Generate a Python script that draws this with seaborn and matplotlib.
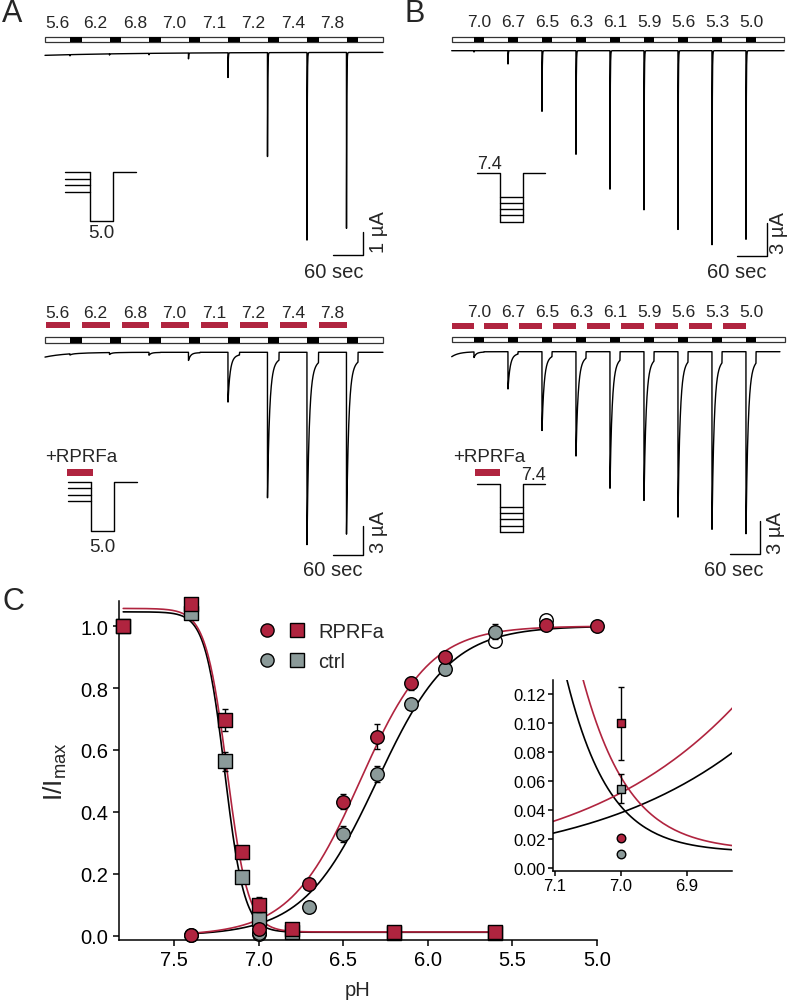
import numpy as np
import matplotlib
matplotlib.use("Agg")
import matplotlib.pyplot as plt
import seaborn as sns
from matplotlib.patches import Rectangle
from matplotlib.lines import Line2D
from matplotlib.legend_handler import HandlerTuple

sns.set_style("ticks")
plt.rcParams["font.family"] = ["Liberation Sans", "DejaVu Sans"]
plt.rcParams["mathtext.default"] = "regular"

RED = "#B0243F"
GRAY = "#8B9A99"

# ------------------ A / B : peak currents (uA) ------------------

a_labels = ["5.6", "6.2", "6.8", "7.0", "7.1", "7.2", "7.4", "7.8"]
a_ctrl_peaks = [0.05, 0.05, 0.06, 0.25, 1.06, 4.46, 8.05, 7.55]
a_rprfa_peaks = [0.12, 0.2, 0.3, 0.85, 5.2, 15.2, 20.1, 19.0]

b_labels = ["7.0", "6.7", "6.5", "6.3", "6.1", "5.9", "5.6", "5.3", "5.0"]
b_ctrl_peaks = [0.12, 1.22, 5.56, 9.5, 12.7, 14.6, 16.4, 17.8, 17.3]
b_rprfa_peaks = [0.5, 3.36, 7.1, 9.4, 12.3, 13.4, 14.9, 16.0, 16.4]

# timing (s): first test pulse, period, test duration
a_timing = (50.0, 79.0, 23.0)
b_timing = (44.6, 68.0, 20.0)

# kinetics: fast tau, slow fraction, slow tau, sustained fraction
ctrl_kin = (0.5, 0.0, 1.0, 0.0)
rprfa_kin = (4.0, 0.15, 12.0, 0.03)

# initial baseline offset (uA) and its settling time (s)
a_ctrl_drift = (0.13, 200.0)
a_rprfa_drift = (0.5, 45.0)
b_ctrl_drift = (0.0, 1.0)
b_rprfa_drift = (0.45, 15.0)

# ------------------ C : concentration-response ------------------

sq_ph = [7.8, 7.4, 7.2, 7.1, 7.0, 6.8, 6.2, 5.6]
sq_rprfa = [1.00, 1.072, 0.697, 0.269, 0.100, 0.020, 0.011, 0.011]
sq_rprfa_err = [0, 0, 0.035, 0.02, 0.025, 0, 0, 0]
sq_ctrl = [1.00, 1.042, 0.563, 0.188, 0.055, 0.012, 0.009, 0.009]
sq_ctrl_err = [0, 0, 0.03, 0.015, 0.01, 0, 0, 0]

ci_ph_rprfa = [7.4, 7.0, 6.7, 6.5, 6.3, 6.1, 5.9, 5.3, 5.0]
ci_rprfa = [0.003, 0.021, 0.167, 0.433, 0.643, 0.815, 0.900, 1.003, 0.999]
ci_rprfa_err = [0, 0, 0, 0.025, 0.04, 0.02, 0.02, 0.01, 0]
ci_ph_ctrl = [7.4, 7.0, 6.7, 6.5, 6.3, 6.1, 5.9, 5.6]
ci_ctrl = [0.003, 0.010, 0.092, 0.328, 0.522, 0.748, 0.861, 0.982]
ci_ctrl_err = [0, 0, 0, 0.025, 0.025, 0.015, 0, 0.025]
open_ph = [7.0, 5.6, 5.3]
open_val = [0.004, 0.953, 1.02]

# fit parameters: activation (pH50, nH), inactivation (top, bottom, pH50, nH)
act_ctrl = (6.30, 2.0)
act_rprfa = (6.40, 2.1)
inact_ctrl = (1.035, 0.011, 7.20, 7.5)
inact_rprfa = (1.045, 0.012, 7.187, 6.9)

# ------------------ figure ------------------

W, H = 793, 1004
fig = plt.figure(figsize=(W / 100, H / 100), dpi=100)


def px_axes(l, t, r, b):
    return fig.add_axes([l / W, 1 - b / H, (r - l) / W, (b - t) / H])


def make_trace(peaks, timing, kin, drift, t_end):
    t_first, period, t_test = timing
    tau_f, slow, tau_s, sus_frac = kin
    tt = np.arange(0, t_end, 0.1)
    cur = -drift[0] * np.exp(-tt / drift[1])
    for i, pk in enumerate(peaks):
        ts = t_first + i * period
        m = (tt >= ts) & (tt < ts + t_test)
        d = tt[m] - ts
        sus = sus_frac * pk
        cur[m] += -(pk - sus) * ((1 - slow) * np.exp(-d / tau_f) + slow * np.exp(-d / tau_s)) - sus
    return tt, cur


def trace_panel(box, x0, base, ppu, peaks, labels, timing, kin, drift, t_end, stim_y, stim_end,
                label_y, label_on_test, red_y, scale_ua, sb, ua_txt, sec_txt):
    l, t, r, b = box
    ax = px_axes(l, t, r, b)
    spp = 2.0
    X = lambda p: (p - x0) * spp
    Y = lambda p: (base - p) / ppu
    ax.set_xlim(X(l), X(r))
    ax.set_ylim(Y(b), Y(t))
    ax.axis("off")

    t_first, period, t_test = timing
    starts = [t_first + i * period for i in range(len(peaks))]

    # stimulus bar
    y0, y1 = Y(stim_y[1]), Y(stim_y[0])
    ax.add_patch(Rectangle((0, y0), X(stim_end), y1 - y0, facecolor="white",
                           edgecolor="#333333", lw=0.9))
    for s in starts:
        ax.add_patch(Rectangle((s, y0), t_test, y1 - y0, facecolor="black", edgecolor="none"))

    # pH labels and RPRFa bars
    for i, (s, lab) in enumerate(zip(starts, labels)):
        c0 = 0 if i == 0 else starts[i - 1] + t_test
        xc = s + t_test / 2 if label_on_test else (c0 + s) / 2
        ax.text(xc, Y(label_y), lab, ha="center", va="center", fontsize=12.5)
        if red_y is not None:
            ax.add_patch(Rectangle((c0 + 1.0, Y(red_y + 3)), s - c0 - 0.5, 6 / ppu,
                                   facecolor=RED, edgecolor="none"))

    tt, cur = make_trace(peaks, timing, kin, drift, t_end)
    sns.lineplot(x=tt, y=cur, ax=ax, color="black", lw=1.0, estimator=None, sort=False)

    # scale bars
    sx, sy = X(sb[0]), Y(sb[1])
    ax.plot([sx - 60, sx, sx], [sy, sy, sy + scale_ua], color="black", lw=1.0)
    ax.text(X(ua_txt[0]), Y(ua_txt[1]), f"{scale_ua} µA", rotation=90,
            ha="center", va="center", fontsize=14.5)
    ax.text(X(sec_txt[0]), Y(sec_txt[1]), "60 sec", ha="center", va="center", fontsize=14.5)
    return ax


trace_panel((40, 5, 395, 290), 45, 53.3, 23.3, a_ctrl_peaks, a_labels, a_timing, ctrl_kin, a_ctrl_drift, 676,
            (37.7, 43.3), 382.7, 23.3, False, None, 1, (362.7, 256.3), (379, 231.7), (334, 273))
trace_panel((40, 290, 395, 585), 45, 353.3, 9.57, a_rprfa_peaks, a_labels, a_timing, rprfa_kin, a_rprfa_drift, 676,
            (338.3, 344.0), 382.7, 313.3, False, 326.2, 3, (362.7, 556), (378, 532), (333, 570))
trace_panel((445, 5, 793, 290), 451.7, 51.7, 10.9, b_ctrl_peaks, b_labels, b_timing, ctrl_kin, b_ctrl_drift, 665,
            (38.3, 43.3), 784.3, 22.5, True, None, 3, (766.7, 256.7), (778, 233), (736.7, 273))
trace_panel((445, 290, 793, 585), 451.7, 352.7, 11.1, b_rprfa_peaks, b_labels, b_timing, rprfa_kin, b_rprfa_drift,
            656.6, (337.7, 343.3), 785.0, 312.5, True, 327.3, 3, (760, 555), (775.5, 533), (733.3, 570))

# ------------------ protocol sketches (pixel overlay) ------------------

ov = fig.add_axes([0, 0, 1, 1])
ov.set_xlim(0, W)
ov.set_ylim(H, 0)
ov.axis("off")


def sketch_down(x_l, x_a, x_b, x_r, y_top, y_bot, levels, label, lab_y):
    # conditioning levels then a step down to the test pH
    for yy in levels:
        ov.plot([x_l, x_a], [yy, yy], color="black", lw=1.0)
    ov.plot([x_a, x_a, x_b, x_b, x_r], [y_top, y_bot, y_bot, y_top, y_top], color="black", lw=1.0)
    ov.text((x_a + x_b) / 2, lab_y, label, ha="center", va="center", fontsize=13.5)


def sketch_up(x_l, x_a, x_b, x_r, y_top, rungs):
    ov.plot([x_l, x_a, x_a], [y_top, y_top, rungs[-1]], color="black", lw=1.0)
    ov.plot([x_b, x_b, x_r], [rungs[-1], y_top, y_top], color="black", lw=1.0)
    for yy in rungs:
        ov.plot([x_a, x_b], [yy, yy], color="black", lw=1.0)


sketch_down(65, 90, 113, 136, 173.3, 222, [173.3, 180, 186, 192.7], "5.0", 234)
sketch_down(68, 90.7, 113.7, 136.7, 483.3, 531.7, [483.3, 489.3, 495.7, 501.7], "5.0", 547.5)
ov.text(45, 457.5, "+RPRFa", ha="left", va="center", fontsize=13.5)
ov.add_patch(Rectangle((66.7, 469.5), 26, 7, facecolor=RED, edgecolor="none"))

sketch_up(477.3, 500, 523.3, 545, 174, [198.3, 204, 210, 216, 222.7])
ov.text(489, 164.5, "7.4", ha="center", va="center", fontsize=13)
sketch_up(477.3, 500, 523.3, 545, 485, [508.3, 514, 520, 526.7, 532.7])
ov.text(453.3, 457.5, "+RPRFa", ha="left", va="center", fontsize=13.5)
ov.add_patch(Rectangle((475, 470), 25, 7, facecolor=RED, edgecolor="none"))
ov.text(533, 475.3, "7.4", ha="center", va="center", fontsize=13)

# ------------------ C ------------------


def act(ph, p):
    return 1 / (1 + 10 ** (p[1] * (ph - p[0])))


def inact(ph, p):
    return p[1] + p[0] / (1 + 10 ** (p[3] * (p[2] - ph)))


ph_act = np.linspace(7.4, 5.0, 500)
ph_inact = np.linspace(7.8, 5.6, 500)


def draw_c(ax, ms, small=False):
    lw = 1.2
    sns.lineplot(x=ph_act, y=act(ph_act, act_ctrl), ax=ax, color="black", lw=lw, estimator=None, sort=False)
    sns.lineplot(x=ph_inact, y=inact(ph_inact, inact_ctrl), ax=ax, color="black", lw=lw, estimator=None, sort=False)
    sns.lineplot(x=ph_act, y=act(ph_act, act_rprfa), ax=ax, color=RED, lw=lw, estimator=None, sort=False)
    sns.lineplot(x=ph_inact, y=inact(ph_inact, inact_rprfa), ax=ax, color=RED, lw=lw, estimator=None, sort=False)

    groups = [
        (sq_ph, sq_ctrl, sq_ctrl_err, GRAY, "s"),
        (sq_ph, sq_rprfa, sq_rprfa_err, RED, "s"),
        (ci_ph_ctrl, ci_ctrl, ci_ctrl_err, GRAY, "o"),
        (ci_ph_rprfa, ci_rprfa, ci_rprfa_err, RED, "o"),
    ]
    z = 4
    if not small:
        sns.scatterplot(x=open_ph, y=open_val, ax=ax, marker="o", s=ms, color="white",
                        edgecolor="black", linewidth=1.0, zorder=3, clip_on=False)
    for xs, ys, es, col, mk in groups:
        xs = np.array(xs)
        ys = np.array(ys)
        es = np.array(es)
        if small:
            keep = np.isclose(xs, 7.0)
            xs, ys, es = xs[keep], ys[keep], es[keep]
        e = es > 0
        if e.any():
            ax.errorbar(xs[e], ys[e], yerr=es[e], fmt="none", ecolor="black",
                        elinewidth=1.0, capsize=2.5, capthick=1.0, zorder=z)
        sns.scatterplot(x=xs, y=ys, ax=ax, marker=mk, s=ms, color=col, edgecolor="black",
                        linewidth=1.0, zorder=z + 0.5, clip_on=small)
        z += 1


ax = px_axes(119, 601.7, 597, 940.7)
draw_c(ax, 95)
ax.set_xlim(7.825, 5.0)
ax.set_ylim(-0.013, 1.082)
ax.set_xticks([7.5, 7.0, 6.5, 6.0, 5.5, 5.0])
ax.set_xticklabels(["7.5", "7.0", "6.5", "6.0", "5.5", "5.0"])
ax.set_yticks([0.0, 0.2, 0.4, 0.6, 0.8, 1.0])
ax.set_yticklabels(["0.0", "0.2", "0.4", "0.6", "0.8", "1.0"])
sns.despine(ax=ax)
for sp in ["left", "bottom"]:
    ax.spines[sp].set_linewidth(1.1)
    ax.spines[sp].set_color("black")
ax.tick_params(direction="out", length=4.5, width=1.1, labelsize=14.5, colors="black", pad=3)
ax.set_xlabel("pH", fontsize=14.5)
ax.xaxis.set_label_coords(0.5, -0.12)
ax.set_ylabel("I/I$_{max}$", fontsize=19)
ax.yaxis.set_label_coords(-0.105, 0.5)

leg_handles = [
    (Line2D([], [], ls="none", marker="o", ms=9.5, mfc=RED, mec="black", mew=1.0),
     Line2D([], [], ls="none", marker="s", ms=9.5, mfc=RED, mec="black", mew=1.0)),
    (Line2D([], [], ls="none", marker="o", ms=9.5, mfc=GRAY, mec="black", mew=1.0),
     Line2D([], [], ls="none", marker="s", ms=9.5, mfc=GRAY, mec="black", mew=1.0)),
]
ax.legend(leg_handles, ["RPRFa", "ctrl"], handler_map={tuple: HandlerTuple(ndivide=None, pad=0.70)},
          handlelength=2.29, handletextpad=0.65, labelspacing=0.55, borderpad=0, borderaxespad=0,
          frameon=False, fontsize=14.5, loc="upper left", bbox_to_anchor=(259 / W, 1 - 623 / H),
          bbox_transform=fig.transFigure)

# inset
ins = px_axes(553, 681, 731.7, 871.7)
draw_c(ins, 38, small=True)
ins.set_xlim(7.103, 6.832)
ins.set_ylim(-0.0017, 0.130)
ins.set_xticks([7.1, 7.0, 6.9])
ins.set_xticklabels(["7.1", "7.0", "6.9"])
ins.set_yticks([0.0, 0.02, 0.04, 0.06, 0.08, 0.10, 0.12])
ins.set_yticklabels(["0.00", "0.02", "0.04", "0.06", "0.08", "0.10", "0.12"])
sns.despine(ax=ins)
for sp in ["left", "bottom"]:
    ins.spines[sp].set_linewidth(1.1)
    ins.spines[sp].set_color("black")
ins.tick_params(direction="out", length=3.5, width=1.1, labelsize=12, colors="black", pad=2)
ins.set_facecolor("none")

# panel letters
fig.text(2 / W, 1 - 14 / H, "A", fontsize=22, ha="left", va="center")
fig.text(404 / W, 1 - 14 / H, "B", fontsize=22, ha="left", va="center")
fig.text(2 / W, 1 - 602 / H, "C", fontsize=22, ha="left", va="center")

fig.savefig("out.png", dpi=100)
